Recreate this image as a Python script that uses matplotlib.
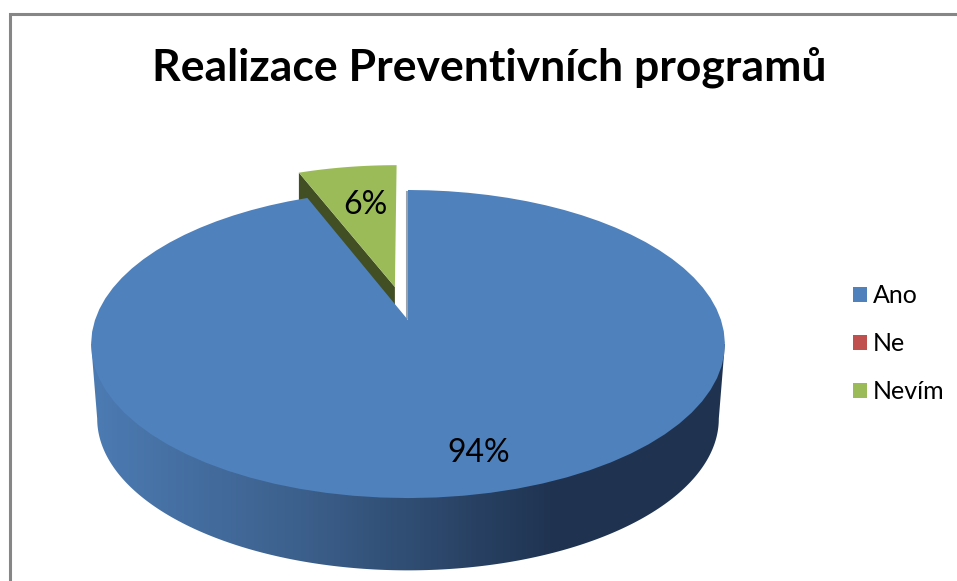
import numpy as np
import matplotlib
matplotlib.use('Agg')
import matplotlib.pyplot as plt
from matplotlib.patches import Patch, Polygon

categories = ['Ano', 'Ne', 'Nevím']
values = [94, 0, 6]
labels = ['94%', '', '6%']
colors = ['#4f81bd', '#c0504d', '#9bbb59']
title = 'Realizace Preventivních programů'

plt.rcParams['font.family'] = ['Lato', 'DejaVu Sans']

# perspective look of the pie, in pixels of the picture
CX, CY = 408, 320
RX, RY = 313, 150.3
K = 0.156
EXPLODE = 0.2315


def project(u, v, cy=CY, rx=RX, ry=RY):
    d = 1 + K * v
    return CX + rx * u / d, cy - ry * v / d


def slice_path(start, sweep, shift=0.0, n=80):
    # wedge from the centre, angles in degrees counted clockwise from the top
    a = np.radians(90 - np.linspace(start, start + sweep, n))
    mid = np.radians(90 - (start + sweep / 2))
    ox, oy = shift * np.cos(mid), shift * np.sin(mid)
    u = np.r_[ox, ox + np.cos(a)]
    v = np.r_[oy, oy + np.sin(a)]
    return np.column_stack(project(u, v))


fig = plt.figure(figsize=(9.57, 5.81), dpi=100)
ax = fig.add_axes([0, 0, 1, 1])
ax.set_xlim(0, 957)
ax.set_ylim(581, 0)
ax.axis('off')

# chart frame, the right side is cut off in the picture
ax.plot([9.5, 9.5, 957], [581, 13.5, 13.5], color='#868686', lw=2.2, solid_joinstyle='miter')

ax.text(489, 67, title, fontsize=32, fontweight='bold', ha='center', va='center', color='black')

total = sum(values)
sweeps = [360 * val / total for val in values]
start_blue = 0
start_green = sum(sweeps[:2])

# side of the big slice, shaded from left to right
a = np.radians(np.linspace(180 + np.degrees(np.arcsin(K)), 360 - np.degrees(np.arcsin(K)), 200))
top_x, top_y = project(np.cos(a), np.sin(a))
low_x, low_y = project(np.cos(a), np.sin(a), cy=395, rx=307, ry=148)
# only the two ends of the top rim, the chord between them stays under the blue top
side = np.r_[np.column_stack([top_x, top_y])[[0, -1]], np.column_stack([low_x, low_y])[::-1]]
shade_x = [90, 300, 555, 730]
shade = np.array([[0x4c, 0x7b, 0xb3], [0x3c, 0x60, 0x8c], [0x1f, 0x33, 0x50], [0x1f, 0x34, 0x52]]) / 255
xs = np.arange(85, 735)
grad = np.column_stack([np.interp(xs, shade_x, shade[:, i]) for i in range(3)])[None, :, :]
im = ax.imshow(grad, extent=(85, 735, 575, 340), aspect='auto', zorder=2)
side_patch = Polygon(side, closed=True, transform=ax.transData, fc='none', ec='none')
ax.add_patch(side_patch)
im.set_clip_path(side_patch)
ax.set_xlim(0, 957)
ax.set_ylim(581, 0)

# exploded green slice: its cut side first, then the top
green = slice_path(start_green, sweeps[2], EXPLODE)
green_side = np.r_[green[[0, 1]], green[[1, 0]] + [0, 70]]
ax.add_patch(Polygon(green_side, closed=True, fc='#424f24', ec='none', zorder=3))
ax.add_patch(Polygon(green, closed=True, fc=colors[2], ec='none', zorder=4))

# thin gray edge of the big slice next to the gap
rim_x, rim_y = project(0, 1)
ax.plot([rim_x - 1.5, rim_x - 1.5], [rim_y + 2, CY - 2], color='#9aa3ad', lw=1.5, zorder=4.5)

# big blue slice on top
ax.add_patch(Polygon(slice_path(start_blue, sweeps[0]), closed=True, fc=colors[0], ec='none', zorder=5))

ax.text(479, 453, labels[0], fontsize=23, ha='center', va='center', color='black', zorder=6)
ax.text(365, 205, labels[2], fontsize=23, ha='center', va='center', color='black', zorder=6)

handles = [Patch(fc=c, ec='none', label=n) for c, n in zip(colors, categories)]
ax.legend(handles=handles, loc='center left', bbox_to_anchor=(0.891, 0.4085), frameon=False,
          fontsize=18, handlelength=0.56, handleheight=0.56, handletextpad=0.24,
          labelspacing=1.0, borderpad=0, borderaxespad=0)

fig.savefig('out.png', dpi=100)
